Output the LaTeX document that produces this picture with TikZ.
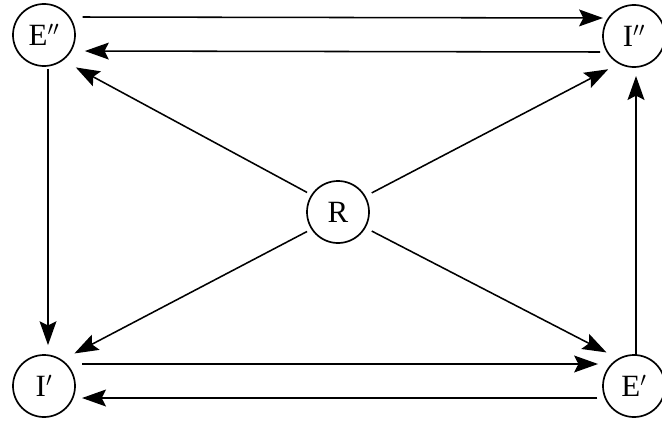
\documentclass[tikz,border=0pt]{standalone}
\usepackage{fontspec}
\setmainfont{Liberation Serif}
\usetikzlibrary{arrows.meta}

\begin{document}
\begin{tikzpicture}[x=0.025cm, y=0.025cm,
  state/.style={draw, circle, line width=1.2pt, minimum size=1.55cm, inner sep=0pt, outer sep=0pt, font=\fontsize{22}{24}\selectfont},
  flow/.style={-{Stealth[length=17pt, width=12pt, inset=3pt]}, line width=1.1pt}]
\useasboundingbox (0,0) rectangle (662,423);
% ---- states
\node[state] (E2) at (44,388) {E$''$};
\node[state] (I2) at (634,387) {I$''$};
\node[state] (R) at (338,211) {R};
\node[state] (I1) at (44,37) {I$'$};
\node[state] (E1) at (634,37) {E$'$};
% ---- top pair
\draw[flow, shorten <=5.5pt] ([yshift=0.45cm]E2.east) -- ([yshift=0.45cm]I2.west);
\draw[flow, shorten <=2pt, shorten >=7pt] ([yshift=-0.4cm]I2.west) -- ([yshift=-0.4cm]E2.east);
% ---- bottom pair
\draw[flow, shorten <=5pt, shorten >=3.5pt] ([yshift=0.55cm]I1.east) -- ([yshift=0.55cm]E1.west);
\draw[flow, shorten <=4pt, shorten >=5pt] ([yshift=-0.3cm]E1.west) -- ([yshift=-0.3cm]I1.east);
% ---- sides
\draw[flow, shorten <=2pt, shorten >=7pt] ([xshift=0.1cm]E2.south) -- ([xshift=0.1cm]I1.north);
\draw[flow, shorten >=6.4pt] ([xshift=0.05cm]E1.north) -- ([xshift=0.05cm]I2.south);
% ---- from R
\draw[flow, shorten <=4pt, shorten >=11pt] (R.147) -- (E2.-54);
\draw[flow, shorten <=5.5pt, shorten >=9pt] (R.30) -- (I2.242);
\draw[flow, shorten <=4pt, shorten >=10.5pt] (R.213) -- (I1.56);
\draw[flow, shorten <=5.5pt, shorten >=10pt] (R.-30) -- (E1.119);
\end{tikzpicture}
\end{document}
